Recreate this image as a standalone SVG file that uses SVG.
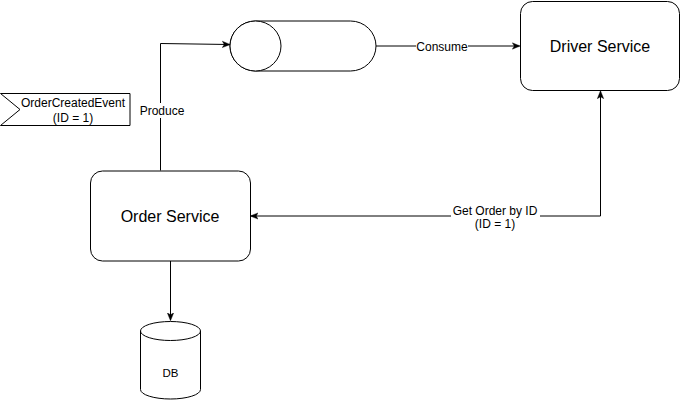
<svg xmlns="http://www.w3.org/2000/svg" width="681" height="401" viewBox="0 0 681 401">
<style>
.shape{fill:#fff;stroke:#000;stroke-width:1}
.edge{fill:none;stroke:#000;stroke-width:1}
.big{font-family:"Liberation Sans",Arial,sans-serif;font-size:16px;fill:#000;text-anchor:middle}
.small{font-family:"Liberation Sans",Arial,sans-serif;font-size:12px;fill:#000;text-anchor:middle}
.lblbg{fill:#fff;stroke:none}
</style>
<defs>
<marker id="arrow" viewBox="0 0 10 10" refX="9" refY="5" markerWidth="8" markerHeight="8" markerUnits="userSpaceOnUse" orient="auto-start-reverse">
<path d="M0,1 L10,5 L0,9 L2.5,5 z" fill="#000" stroke="#000" stroke-width="0.5"/>
</marker>
</defs>
<rect width="681" height="401" fill="#fff"/>
<g id="connectors">
<g id="edge-produce">
<path class="edge" d="M160.5,170.5 L160.5,43.5 L229.5,44.5" marker-end="url(#arrow)"/>
<rect class="lblbg" x="139" y="103" width="46" height="15"/>
<text class="small" x="162" y="115">Produce</text>
</g>
<g id="edge-consume">
<path class="edge" d="M376,46 L519.5,46" marker-end="url(#arrow)"/>
<rect class="lblbg" x="416" y="40" width="52" height="13"/>
<text class="small" x="442" y="50.5">Consume</text>
</g>
<g id="edge-getorder">
<path class="edge" d="M251,216 L600.5,216 L600.5,91.5" marker-start="url(#arrow)" marker-end="url(#arrow)"/>
<rect class="lblbg" x="451" y="203" width="89" height="28"/>
<text class="small" x="495" y="215">Get Order by ID</text>
<text class="small" x="495" y="228">(ID = 1)</text>
</g>
<g id="edge-db">
<path class="edge" d="M170.5,261 L170.5,320" marker-end="url(#arrow)"/>
</g>
</g>
<g id="node-queue">
<path class="shape" d="M255.5,21 L350.5,21 A25.5,25 0 0 1 350.5,71 L255.5,71 A25.5,25 0 0 1 255.5,21 Z"/>
<ellipse class="shape" cx="255.5" cy="46" rx="25.5" ry="25"/>
</g>
<g id="node-driver">
<rect class="shape" x="520.5" y="1.5" width="159" height="89" rx="12" ry="12"/>
<text class="big" x="600" y="51.5">Driver Service</text>
</g>
<g id="node-order">
<rect class="shape" x="90.5" y="171" width="160" height="90" rx="12" ry="12"/>
<text class="big" x="170" y="221.5">Order Service</text>
</g>
<g id="node-event">
<polygon class="shape" points="0.5,93.5 130,93.5 130,125.5 0.5,125.5 20,109.5"/>
<text class="small" x="73" y="107">OrderCreatedEvent</text>
<text class="small" x="73" y="121.5">(ID = 1)</text>
</g>
<g id="node-db">
<path class="shape" d="M140.5,331 A30,9.5 0 0 1 200.5,331 L200.5,389.5 A30,9.5 0 0 1 140.5,389.5 Z"/>
<path class="edge" d="M140.5,331 A30,9.5 0 0 0 200.5,331"/>
<text class="small" x="170.5" y="377" style="font-size:11.5px">DB</text>
</g>
</svg>
